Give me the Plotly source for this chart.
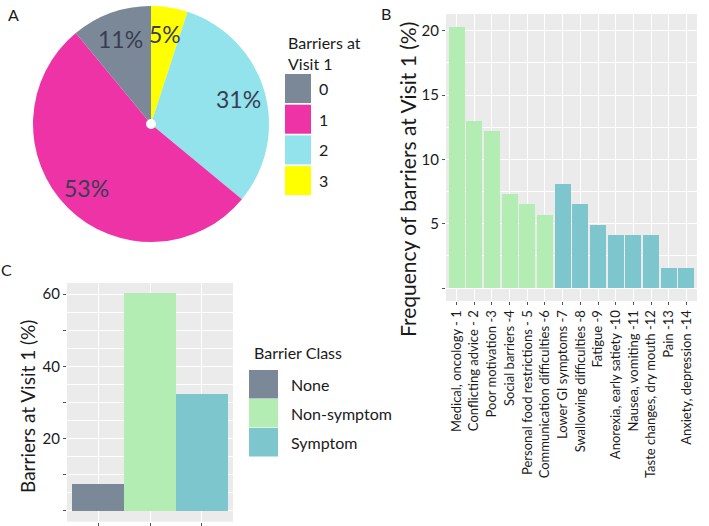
import math
import plotly.graph_objects as go

W, H = 709, 526

# ---------------- data ----------------
pie_labels = ['0', '1', '2', '3']
pie_values = [11, 53, 31, 5]
pie_colors = ['#7A8898', '#EE33A7', '#93E3ED', '#FFFF00']

barrier_names = [
    'Medical, oncology - 1', 'Conflicting advice - 2', 'Poor motivation -3',
    'Social barriers -4', 'Personal food restrictions - 5',
    'Communication difficulties -6', 'Lower GI symptoms -7',
    'Swallowing difficulties -8', 'Fatigue -9', 'Anorexia, early satiety -10',
    'Nausea, vomiting -11', 'Taste changes, dry mouth -12', 'Pain -13',
    'Anxiety, depression -14']
barrier_freq = [20.3, 13.0, 12.2, 7.3, 6.5, 5.7, 8.1, 6.5, 4.9, 4.1, 4.1, 4.1, 1.6, 1.6]
barrier_class = ['Non-symptom'] * 6 + ['Symptom'] * 8

class_names = ['None', 'Non-symptom', 'Symptom']
class_pct = [7.5, 60.2, 32.3]
class_colors = {'None': '#7A8898', 'Non-symptom': '#B3EDB3', 'Symptom': '#7DC6CD'}

B_yticks = [0, 5, 10, 15, 20]
B_yticklabels = ['', '5', '10', '15', '20']
C_yticks = [0, 10, 20, 30, 40, 50, 60]
C_yticklabels = ['', '', '20', '', '40', '', '60']

# ---------------- helpers ----------------
FONT = 'Lato'
TXT = '#1a1a1a'


def px(x):
    return x / W


def py(y):
    return 1 - y / H


fig = go.Figure()

# ---------------- Panel A: pie ----------------
# slices run counterclockwise from 12 o'clock in the order 0,1,2,3;
# drawn clockwise with the order reversed.
PIE_CX, PIE_CY, PIE_R = 151, 124, 118
fig.add_trace(go.Pie(
    labels=pie_labels[::-1], values=pie_values[::-1], sort=False,
    direction='clockwise', rotation=0, hole=0.042,
    marker=dict(colors=pie_colors[::-1], line=dict(width=0)),
    textinfo='none', hoverinfo='label+percent', showlegend=False,
    domain=dict(x=[px(PIE_CX - PIE_R), px(PIE_CX + PIE_R)],
                y=[py(PIE_CY + PIE_R), py(PIE_CY - PIE_R)])))

annotations = []
total = sum(pie_values)
cum = 0
for lab, v in zip(pie_labels, pie_values):
    mid = (cum + v / 2) / total
    cum += v
    th = 2 * math.pi * mid
    rf = 0.77
    x = PIE_CX - PIE_R * rf * math.sin(th)
    y = PIE_CY - PIE_R * rf * math.cos(th)
    annotations.append(dict(x=px(x), y=py(y), xref='paper', yref='paper',
                            text=f'{round(100 * v / total)}%', showarrow=False,
                            font=dict(family=FONT, size=23, color='#3A3D52'),
                            xanchor='center', yanchor='middle'))

# legend A
annotations.append(dict(x=px(286), y=py(31), xref='paper', yref='paper',
                        text='Barriers at<br>Visit 1', showarrow=False, align='left',
                        xanchor='left', yanchor='top',
                        font=dict(family=FONT, size=16, color=TXT)))
shapes = []
for i, (lab, col) in enumerate(zip(pie_labels, pie_colors)):
    y0 = 74 + i * 30.7
    shapes.append(dict(type='rect', xref='paper', yref='paper',
                       x0=px(285), x1=px(311), y0=py(y0 + 29), y1=py(y0),
                       fillcolor=col, line=dict(width=0)))
    annotations.append(dict(x=px(317), y=py(y0 + 14.5), xref='paper', yref='paper',
                            text=lab, showarrow=False, xanchor='left', yanchor='middle',
                            font=dict(family=FONT, size=16, color=TXT)))

# ---------------- Panel B ----------------
fig.add_trace(go.Bar(
    x=barrier_names, y=barrier_freq, width=0.9,
    marker=dict(color=[class_colors[c] for c in barrier_class], line=dict(width=0)),
    xaxis='x', yaxis='y', showlegend=False))

# ---------------- Panel C ----------------
fig.add_trace(go.Bar(
    x=class_names, y=class_pct, width=1.0,
    marker=dict(color=[class_colors[c] for c in class_names], line=dict(width=0)),
    xaxis='x2', yaxis='y2', showlegend=False))

annotations.append(dict(x=px(252), y=py(352), xref='paper', yref='paper',
                        text='Barrier Class', showarrow=False, xanchor='left',
                        yanchor='middle', font=dict(family=FONT, size=16, color=TXT)))
for i, name in enumerate(class_names):
    y0 = 370 + i * 29
    shapes.append(dict(type='rect', xref='paper', yref='paper',
                       x0=px(249), x1=px(278), y0=py(y0 + 28.5), y1=py(y0),
                       fillcolor=class_colors[name], line=dict(width=0)))
    annotations.append(dict(x=px(289), y=py(y0 + 14.5), xref='paper', yref='paper',
                            text=name, showarrow=False, xanchor='left', yanchor='middle',
                            font=dict(family=FONT, size=16, color=TXT)))

# axis titles and panel letters
annotations.append(dict(x=px(407), y=py(180), xref='paper', yref='paper',
                        text='Frequency of barriers at Visit 1 (%)', textangle=-90,
                        showarrow=False, xanchor='center', yanchor='middle',
                        font=dict(family=FONT, size=21, color=TXT)))
annotations.append(dict(x=px(27), y=py(407), xref='paper', yref='paper',
                        text='Barriers at Visit 1 (%)', textangle=-90,
                        showarrow=False, xanchor='center', yanchor='middle',
                        font=dict(family=FONT, size=19, color=TXT)))
for letter, (lx, ly) in zip(['A', 'B', 'C'], [(13, 14), (386, 13), (6, 269)]):
    annotations.append(dict(x=px(lx), y=py(ly), xref='paper', yref='paper',
                            text=letter, showarrow=False, xanchor='center',
                            yanchor='middle', font=dict(family=FONT, size=16, color=TXT)))

grid = dict(showgrid=True, gridcolor='white', gridwidth=1.1, zeroline=False,
            showline=False, ticks='outside', ticklen=3, tickcolor='#555555', tickwidth=1)

fig.update_layout(
    width=W, height=H, margin=dict(l=0, r=0, t=0, b=0),
    paper_bgcolor='white', plot_bgcolor='#EBEBEB',
    bargap=0, font=dict(family=FONT, color=TXT),
    xaxis=dict(domain=[px(446), px(697)], anchor='y', type='category',
               range=[-0.6, len(barrier_names) - 0.4], tickangle=-90,
               tickfont=dict(size=13, color=TXT), **grid),
    yaxis=dict(domain=[py(301), py(14)], anchor='x', range=[-1.0, 21.3],
               tickmode='array', tickvals=B_yticks, ticktext=B_yticklabels,
               tickfont=dict(size=15, color=TXT),
               minor=dict(tickmode='array', tickvals=[t + 2.5 for t in B_yticks],
                          showgrid=True, gridcolor='white', gridwidth=0.5, ticks=''),
               **grid),
    xaxis2=dict(domain=[px(67), px(233)], anchor='y2', type='category',
                range=[-0.6, len(class_names) - 0.4], showticklabels=False, **grid),
    yaxis2=dict(domain=[py(521.7), py(283)], anchor='x2', range=[-3.0, 63.1],
                tickmode='array', tickvals=C_yticks, ticktext=C_yticklabels,
                tickfont=dict(size=15, color=TXT),
                minor=dict(tickmode='array', tickvals=[t + 5 for t in C_yticks],
                           showgrid=True, gridcolor='white', gridwidth=0.5, ticks=''),
                **grid),
    shapes=shapes, annotations=annotations,
)

fig.write_html('out.html', config={'displayModeBar': False},
               post_script="document.body.style.margin='0';document.body.style.overflow='hidden';")
